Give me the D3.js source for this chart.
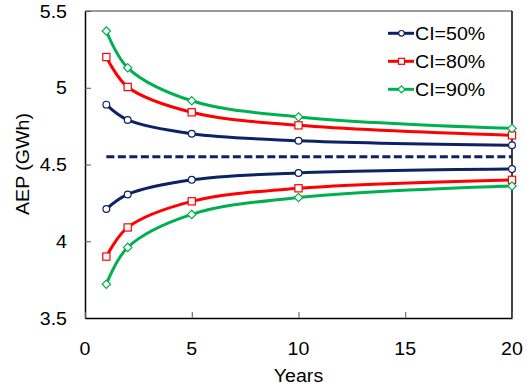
<!DOCTYPE html>
<html>
<head>
<meta charset="utf-8">
<script src="https://d3js.org/d3.v7.min.js"></script>
<style>
  body { margin: 0; background: #fff; }
  text { font-family: "Liberation Sans", Arial, sans-serif; font-size: 17.5px; fill: #000; }
  .curve { fill: none; stroke-width: 3; }
</style>
</head>
<body>
<svg width="526" height="387"></svg>
<script>
// values
var years = [1, 2, 5, 10, 20];
var ci50Upper = [4.89, 4.79, 4.70, 4.655, 4.625];
var ci50Lower = [4.21, 4.305, 4.40, 4.445, 4.47];
var ci80Upper = [5.20, 5.005, 4.84, 4.755, 4.69];
var ci80Lower = [3.90, 4.09, 4.26, 4.345, 4.40];
var ci90Upper = [5.37, 5.13, 4.915, 4.81, 4.735];
var ci90Lower = [3.72, 3.96, 4.175, 4.285, 4.36];
var meanAep = 4.55;
var xTicks = [0, 5, 10, 15, 20];
var yTicks = [3.5, 4, 4.5, 5, 5.5];

var series = [
  { name: "CI=50%", color: "#0c2264", marker: "circle",  upper: ci50Upper, lower: ci50Lower },
  { name: "CI=80%", color: "#ff0000", marker: "square",  upper: ci80Upper, lower: ci80Lower },
  { name: "CI=90%", color: "#00b050", marker: "diamond", upper: ci90Upper, lower: ci90Lower }
];

var plotL = 85, plotR = 512, plotT = 11, plotB = 318;
var stretch = 1.12; // reference font is a bit wider than Liberation Sans

var svg = d3.select("svg");
var x = d3.scaleLinear().domain([0, 20]).range([plotL, plotR]);
var y = d3.scaleLinear().domain([3.5, 5.5]).range([plotB, plotT]);

function label(g, str, tx, ty, anchor, rotate) {
  return g.append("text")
    .attr("transform", "translate(" + tx + "," + ty + ")" + (rotate ? " rotate(-90)" : "") + " scale(" + stretch + ",1)")
    .attr("text-anchor", anchor)
    .text(str);
}

// frame: top and right borders
svg.append("line").attr("x1", plotL).attr("x2", plotR).attr("y1", plotT).attr("y2", plotT)
  .attr("stroke", "#777").attr("stroke-width", 1.5);
svg.append("line").attr("x1", plotR).attr("x2", plotR).attr("y1", plotT).attr("y2", plotB)
  .attr("stroke", "#000").attr("stroke-width", 1.5);

// axes with inward ticks
var yAxis = svg.append("g").attr("transform", "translate(" + plotL + ",0)")
  .call(d3.axisRight(y).tickValues(yTicks).tickSize(6).tickSizeOuter(0).tickFormat(""));
var xAxis = svg.append("g").attr("transform", "translate(0," + plotB + ")")
  .call(d3.axisTop(x).tickValues(xTicks).tickSize(6).tickSizeOuter(0).tickFormat(""));
[yAxis, xAxis].forEach(function(a) {
  a.select(".domain").attr("stroke", "#000").attr("stroke-width", 1.5);
  a.selectAll(".tick line").attr("stroke", "#555").attr("stroke-width", 1);
});

var labels = svg.append("g");
yTicks.forEach(function(v) { label(labels, d3.format("")(v), 67, y(v) + 6.5, "end"); });
xTicks.forEach(function(v) { label(labels, v, x(v), 355, "middle"); });
label(labels, "Years", (plotL + plotR) / 2, 382, "middle");
label(labels, "AEP (GWh)", 29, 164, "middle", true);

// mean line
svg.append("line")
  .attr("x1", x(years[0])).attr("x2", x(years[years.length - 1]))
  .attr("y1", y(meanAep)).attr("y2", y(meanAep))
  .attr("stroke", "#0c2264").attr("stroke-width", 3).attr("stroke-dasharray", "8,3.5");

var line = d3.line()
  .x(function(d) { return x(d[0]); })
  .y(function(d) { return y(d[1]); })
  .curve(d3.curveCatmullRom.alpha(0.5));

function drawMarker(g, type, cx, cy, color, size) {
  if (type === "circle") {
    g.append("circle").attr("cx", cx).attr("cy", cy).attr("r", size * 0.47)
      .attr("fill", "#fff").attr("stroke", color).attr("stroke-width", 1.2);
  } else if (type === "square") {
    g.append("rect").attr("x", cx - size / 2).attr("y", cy - size / 2)
      .attr("width", size).attr("height", size)
      .attr("fill", "#fff").attr("stroke", color).attr("stroke-width", 1.2);
  } else {
    var h = size * 0.58;
    g.append("path").attr("d", "M" + cx + "," + (cy - h) + "L" + (cx + h) + "," + cy +
      "L" + cx + "," + (cy + h) + "L" + (cx - h) + "," + cy + "Z")
      .attr("fill", "#fff").attr("stroke", color).attr("stroke-width", 1.2);
  }
}

var marks = svg.append("g");
series.forEach(function(s) {
  [s.upper, s.lower].forEach(function(vals) {
    var pts = years.map(function(yr, i) { return [yr, vals[i]]; });
    svg.append("path").datum(pts).attr("class", "curve")
      .attr("stroke", s.color).attr("d", line);
    pts.forEach(function(p) { drawMarker(marks, s.marker, x(p[0]), y(p[1]), s.color, 7.2); });
  });
});
svg.node().appendChild(marks.node());

// legend
var legend = svg.append("g");
series.forEach(function(s, i) {
  var ly = 33.3 + i * 28;
  legend.append("line").attr("x1", 388).attr("x2", 414).attr("y1", ly).attr("y2", ly)
    .attr("stroke", s.color).attr("stroke-width", 3);
  drawMarker(legend, s.marker, 401.5, ly, s.color, 6);
  label(legend, s.name, 415, ly + 6.3, "start");
});
</script>
</body>
</html>
